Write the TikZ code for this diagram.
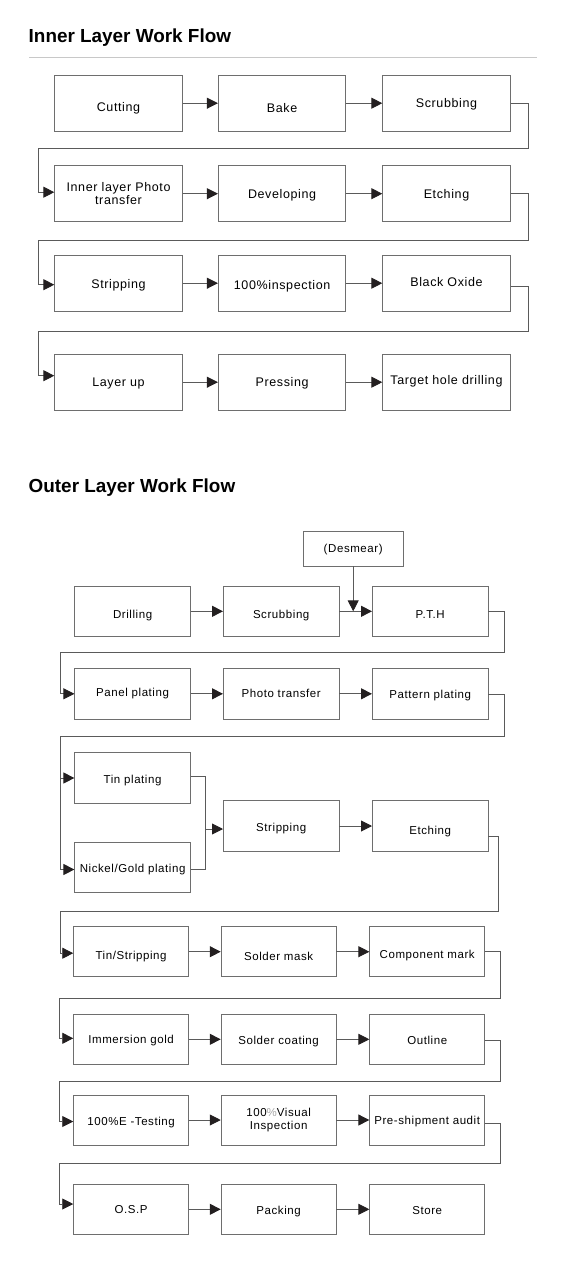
\documentclass[tikz,border=0pt]{standalone}
\usepackage{fontspec}
\setmainfont{Liberation Sans}
\newfontfamily\boxfont[LetterSpace=5]{Liberation Sans}
\usetikzlibrary{arrows.meta}
\definecolor{edge}{HTML}{6E6E6E}
\definecolor{lnk}{HTML}{5A5A5A}
\definecolor{tip}{HTML}{231F20}
\definecolor{rule}{HTML}{C8C8C8}
\newcommand\dn[2]{\raisebox{-#1pt}{#2}}
\tikzset{
  ibox/.style={draw=edge, line width=0.9pt, minimum width=127.5pt, minimum height=55.7pt, inner sep=1pt, align=center, text height=8.95pt, text depth=0pt, font=\boxfont\fontsize{12.5}{13.5}\selectfont},
  ibox2/.style={ibox, text height=, text depth=},
  obox/.style={draw=edge, line width=0.9pt, minimum width=115.5pt, minimum height=50.5pt, inner sep=1pt, align=center, text height=8.23pt, text depth=0pt, font=\boxfont\fontsize{11.5}{12.5}\selectfont},
  lbox/.style={obox, minimum width=114.8pt, minimum height=50pt},
  lbox2/.style={lbox, text height=, text depth=},
  arr/.style={draw=lnk, line width=0.9pt, -{Triangle[length=11pt,width=11pt,color=tip]}},
  lin/.style={draw=lnk, line width=0.9pt},
  ttl/.style={font=\bfseries\fontsize{18.9}{20}\selectfont, anchor=base west, inner sep=0pt}
}
\begin{document}
\begin{tikzpicture}[x=1pt,y=-1pt]
\useasboundingbox (0,0) rectangle (569,1268);
% titles
\node[ttl] (t1) at (28.5,43) {Inner Layer Work Flow};
\draw[rule, line width=0.8pt] (29,57) -- (537,57);
\node[ttl] (t2) at (28.5,492.5) {Outer Layer Work Flow};
% inner layer
\node[ibox] (cut) at (118.5,103.2) {\dn{4}{Cutting}};
\node[ibox] (bake) at (282.1,103.2) {\dn{5}{Bake}};
\node[ibox] (scr) at (446.5,103.2) {Scrubbing};
\node[ibox2] (ipt) at (118.5,193.7) {Inner layer Photo\\transfer};
\node[ibox] (dev) at (282.1,193.7) {Developing};
\node[ibox] (etc) at (446.5,193.7) {Etching};
\node[ibox] (strp) at (118.5,283.2) {\dn{1}{Stripping}};
\node[ibox] (insp) at (282.1,283.2) {\dn{2}{100\%inspection}};
\node[ibox] (box) at (446.5,283.2) {\dn{-1}{Black Oxide}};
\node[ibox] (lay) at (118.5,382.2) {Layer up};
\node[ibox] (prs) at (282.1,382.2) {Pressing};
\node[ibox] (thd) at (446.5,382.2) {\dn{-2.5}{Target hole drilling}};
\draw[arr] (cut) -- (bake);
\draw[arr] (bake) -- (scr);
\draw[arr] (ipt) -- (dev);
\draw[arr] (dev) -- (etc);
\draw[arr] (strp) -- (insp);
\draw[arr] (insp) -- (box);
\draw[arr] (lay) -- (prs);
\draw[arr] (prs) -- (thd);
\draw[arr] (scr.east) -- ++(17.75,0) |- (38.7,148) |- ([yshift=1.5pt]ipt.west);
\draw[arr] (etc.east) -- ++(17.75,0) |- (38.7,240) |- ([yshift=-1.5pt]strp.west);
\draw[arr] ([yshift=-3.3pt]box.east) -- ++(17.75,0) |- (38.7,331) |- ([yshift=6.5pt]lay.west);
% outer layer
\node[obox, minimum width=99.6pt, minimum height=34.3pt] (dsm) at (353.2,548.8) {(Desmear)};
\node[obox] (drl) at (132.6,611.3) {\dn{2.7}{Drilling}};
\node[obox] (oscr) at (281.2,611.3) {\dn{2.7}{Scrubbing}};
\node[obox] (pth) at (430.2,611.3) {\dn{2.7}{P.T.H}};
\node[obox] (pnl) at (132.6,693.8) {\dn{-1}{Panel plating}};
\node[obox] (pht) at (281.2,693.8) {Photo transfer};
\node[obox] (pat) at (430.2,693.8) {\dn{1}{Pattern plating}};
\node[obox] (tin) at (132.6,778) {\dn{1.3}{Tin plating}};
\node[obox] (nig) at (132.6,867.5) {\dn{0.8}{Nickel/Gold plating}};
\node[obox] (ostr) at (281.2,826) {\dn{1.7}{Stripping}};
\node[obox] (oetc) at (430.2,826) {\dn{4}{Etching}};
\node[lbox] (tst) at (131.1,951.7) {\dn{3.3}{Tin/Stripping}};
\node[lbox] (sm) at (278.6,951.7) {\dn{4.3}{Solder mask}};
\node[lbox] (cm) at (427.2,951.7) {\dn{2.3}{Component mark}};
\node[lbox] (img) at (131.1,1039.3) {Immersion gold};
\node[lbox] (sc) at (278.6,1039.3) {\dn{0.7}{Solder coating}};
\node[lbox] (otl) at (427.2,1039.3) {\dn{0.7}{Outline}};
\node[lbox] (et) at (131.1,1120) {\dn{1}{100\%E -Testing}};
\node[lbox2] (vi) at (278.6,1120) {100{\color{gray!70}\%}Visual\\Inspection};
\node[lbox] (psa) at (427.2,1120) {Pre-shipment audit};
\node[lbox] (osp) at (131.1,1209.3) {O.S.P};
\node[lbox] (pck) at (278.6,1209.3) {\dn{0.7}{Packing}};
\node[lbox] (sto) at (427.2,1209.3) {\dn{0.7}{Store}};
\draw[arr] (drl) -- (oscr);
\draw[arr] (oscr) -- (pth);
\draw[arr] (dsm.south) -- (dsm.south |- oscr.east);
\draw[arr] (pnl) -- (pht);
\draw[arr] (pht) -- (pat);
\draw[arr] (ostr) -- (oetc);
\draw[arr] (tst) -- (sm);
\draw[arr] (sm) -- (cm);
\draw[arr] (img) -- (sc);
\draw[arr] (sc) -- (otl);
\draw[arr] (et) -- (vi);
\draw[arr] (vi) -- (psa);
\draw[arr] (osp) -- (pck);
\draw[arr] (pck) -- (sto);
\draw[arr] (pth.east) -- ++(16,0) |- (60.2,652.3) |- (pnl.west);
\coordinate (lw) at (60.2,736);
\draw[arr] ([yshift=-1pt]pat.east) -- ++(16,0) |- (lw) |- ([yshift=-2pt]nig.west);
\draw[arr] (lw |- tin.west) -- (tin.west);
\coordinate (mrg) at (205.3,829);
\draw[lin] ([yshift=1.5pt]tin.east) -| (mrg);
\draw[lin] ([yshift=-1.5pt]nig.east) -| (mrg);
\draw[arr] (mrg) -- (ostr.west |- mrg);
\draw[arr] ([yshift=-10.7pt]oetc.east) -- ++(9.8,0) |- (60.2,911.7) |- ([yshift=-1.5pt]tst.west);
\draw[arr] (cm.east) -- ++(15.8,0) |- (59,998.3) |- ([yshift=1pt]img.west);
\draw[arr] ([yshift=-1.4pt]otl.east) -- ++(15.8,0) |- (59,1081.7) |- ([yshift=-1.5pt]et.west);
\draw[arr] ([yshift=-3.3pt]psa.east) -- ++(15.8,0) |- (59,1163.3) |- ([yshift=5.3pt]osp.west);
\end{tikzpicture}
\end{document}
